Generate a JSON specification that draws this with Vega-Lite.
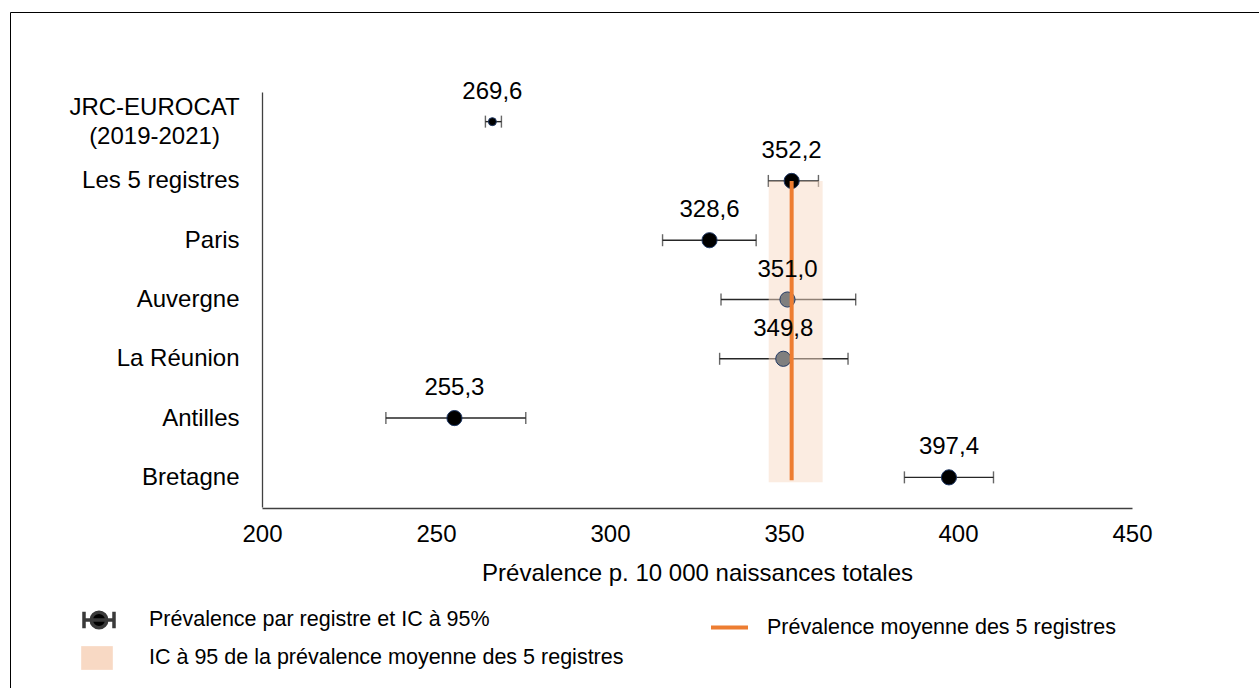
{
  "$schema": "https://vega.github.io/schema/vega-lite/v6.json",
  "autosize": {"type": "none"},
  "padding": {"left": 10, "top": 12, "right": 0, "bottom": 0},
  "width": 1252,
  "height": 680,
  "background": "white",
  "config": {
    "font": "Liberation Sans",
    "view": {"stroke": "#000000", "strokeWidth": 1},
    "legend": {"padding": 0, "labelFont": "Liberation Sans", "labelColor": "#000000", "labelFontSize": 21.5, "labelLimit": 0, "title": null}
  },
  "datasets": {
    "registres": [
      {"registre": "JRC-EUROCAT (2019-2021)", "prev": 266.2, "lo": 264.2, "hi": 268.8, "label": "269,6", "groupe": "référence", "statut": "a"},
      {"registre": "Les 5 registres", "prev": 352.2, "lo": 345.5, "hi": 359.9, "label": "352,2", "groupe": "registre", "statut": "a"},
      {"registre": "Paris", "prev": 328.6, "lo": 315.1, "hi": 342.0, "label": "328,6", "groupe": "registre", "statut": "a"},
      {"registre": "Auvergne", "prev": 351.0, "lo": 331.9, "hi": 370.6, "label": "351,0", "groupe": "registre", "statut": "b"},
      {"registre": "La Réunion", "prev": 349.8, "lo": 331.5, "hi": 368.4, "label": "349,8", "groupe": "registre", "statut": "b"},
      {"registre": "Antilles", "prev": 255.3, "lo": 235.6, "hi": 275.8, "label": "255,3", "groupe": "registre", "statut": "a"},
      {"registre": "Bretagne", "prev": 397.4, "lo": 384.6, "hi": 410.2, "label": "397,4", "groupe": "registre", "statut": "a"}
    ],
    "moyenne": [
      {"debut": "Les 5 registres", "fin": "Bretagne", "moy": 352.2, "ic_lo": 345.6, "ic_hi": 361.1}
    ]
  },
  "layer": [
    {
      "data": {"name": "registres"},
      "mark": {"type": "rule", "color": "#262626", "strokeWidth": 1.4},
      "encoding": {
        "x": {"field": "lo", "type": "quantitative", "title": "Prévalence p. 10 000 naissances totales",
          "scale": {"domain": [200, 450], "range": [252, 1122], "nice": false, "zero": false},
          "axis": {"values": [200, 250, 300, 350, 400, 450], "offset": -184, "ticks": false, "grid": false, "labelFlush": false, "labelOverlap": false,
            "labelFontSize": 24, "labelColor": "#000000", "labelPadding": 14, "domainColor": "#404040", "domainWidth": 1.3,
            "titleFontSize": 24, "titleFontWeight": "normal", "titleColor": "#000000", "titlePadding": 15}},
        "x2": {"field": "hi"},
        "y": {"field": "registre", "type": "nominal", "title": null,
          "scale": {"type": "point", "domain": ["JRC-EUROCAT (2019-2021)", "Les 5 registres", "Paris", "Auvergne", "La Réunion", "Antilles", "Bretagne"], "range": [80, 495], "padding": 0.5},
          "axis": {"offset": -252, "ticks": false, "grid": false, "labelFontSize": 24, "labelColor": "#000000", "labelLimit": 0,
            "labelLineHeight": 29, "domainColor": "#404040", "domainWidth": 1.3,
            "labelAlign": {"condition": {"test": "datum.value == 'JRC-EUROCAT (2019-2021)'", "value": "center"}, "value": "right"},
            "labelPadding": {"condition": {"test": "datum.value == 'JRC-EUROCAT (2019-2021)'", "value": 108}, "value": 23},
            "labelOffset": {"condition": {"test": "datum.value == 'JRC-EUROCAT (2019-2021)'", "value": -14}, "value": 0},
            "labelExpr": "datum.value == 'JRC-EUROCAT (2019-2021)' ? ['JRC-EUROCAT', '(2019-2021)'] : datum.value"}}
      }
    },
    {
      "data": {"name": "registres"},
      "mark": {"type": "tick", "orient": "vertical", "color": "#262626", "size": 12, "thickness": 1.4},
      "encoding": {
        "x": {"field": "lo", "type": "quantitative", "title": "Prévalence p. 10 000 naissances totales", "scale": {"domain": [200, 450], "range": [252, 1122], "nice": false, "zero": false}},
        "y": {"field": "registre", "type": "nominal", "title": null, "scale": {"type": "point", "domain": ["JRC-EUROCAT (2019-2021)", "Les 5 registres", "Paris", "Auvergne", "La Réunion", "Antilles", "Bretagne"], "range": [80, 495], "padding": 0.5}}
      }
    },
    {
      "data": {"name": "registres"},
      "mark": {"type": "tick", "orient": "vertical", "color": "#262626", "size": 12, "thickness": 1.4},
      "encoding": {
        "x": {"field": "hi", "type": "quantitative", "title": "Prévalence p. 10 000 naissances totales", "scale": {"domain": [200, 450], "range": [252, 1122], "nice": false, "zero": false}},
        "y": {"field": "registre", "type": "nominal", "title": null, "scale": {"type": "point", "domain": ["JRC-EUROCAT (2019-2021)", "Les 5 registres", "Paris", "Auvergne", "La Réunion", "Antilles", "Bretagne"], "range": [80, 495], "padding": 0.5}}
      }
    },
    {
      "data": {"name": "moyenne"},
      "mark": {"type": "rect", "opacity": 0.5, "y2Offset": 5},
      "encoding": {
        "x": {"field": "ic_lo", "type": "quantitative", "title": "Prévalence p. 10 000 naissances totales", "scale": {"domain": [200, 450], "range": [252, 1122], "nice": false, "zero": false}},
        "x2": {"field": "ic_hi"},
        "y": {"field": "debut", "type": "nominal", "title": null, "scale": {"type": "point", "domain": ["JRC-EUROCAT (2019-2021)", "Les 5 registres", "Paris", "Auvergne", "La Réunion", "Antilles", "Bretagne"], "range": [80, 495], "padding": 0.5}},
        "y2": {"field": "fin"},
        "fill": {"datum": "IC à 95 de la prévalence moyenne des 5 registres", "type": "nominal",
          "scale": {"range": ["#F8D9C4"]},
          "legend": {"orient": "none", "legendX": 71, "legendY": 630, "symbolType": "M-1,-0.75H1V0.75H-1Z", "symbolSize": 1000, "labelOffset": 36,
            "symbolFillColor": "#FBE5D6", "symbolOpacity": 1, "symbolStrokeWidth": 0,
            "encode": {"symbols": {"update": {"shape": {"value": "M-1,-0.75H1V0.75H-1Z"}, "fill": {"value": "#FBE5D6"}, "opacity": {"value": 1}, "stroke": {"value": "transparent"}}}}}}
      }
    },
    {
      "data": {"name": "registres"},
      "mark": {"type": "point", "filled": true, "shape": "circle", "stroke": "#1F3864", "strokeWidth": 1},
      "encoding": {
        "x": {"field": "prev", "type": "quantitative", "title": "Prévalence p. 10 000 naissances totales", "scale": {"domain": [200, 450], "range": [252, 1122], "nice": false, "zero": false}},
        "y": {"field": "registre", "type": "nominal", "title": null, "scale": {"type": "point", "domain": ["JRC-EUROCAT (2019-2021)", "Les 5 registres", "Paris", "Auvergne", "La Réunion", "Antilles", "Bretagne"], "range": [80, 495], "padding": 0.5}},
        "color": {"field": "statut", "type": "nominal", "scale": {"domain": ["a", "b"], "range": ["#000000", "#7F7F7F"]}, "legend": null},
        "size": {"field": "groupe", "type": "nominal", "scale": {"domain": ["référence", "registre"], "range": [64, 230]}, "legend": null},
        "opacity": {"datum": "Prévalence par registre et IC à 95%", "type": "ordinal",
          "scale": {"range": [1, 1]},
          "legend": {"orient": "none", "legendX": 72, "legendY": 591, "symbolType": "M-1,-0.55L-1,0.55M1,-0.55L1,0.55M-1,0L1,0M-0.52,0A0.52,0.52 0 1,0 0.52,0A0.52,0.52 0 1,0 -0.52,0Z", "symbolSize": 900, "labelOffset": 33,
            "symbolFillColor": "#000000", "symbolStrokeColor": "#3A3A3A", "symbolStrokeWidth": 3.5, "symbolOpacity": 1,
            "encode": {"symbols": {"update": {"fill": {"value": "#000000"}, "stroke": {"value": "#3A3A3A"}, "strokeWidth": {"value": 3.5}, "opacity": {"value": 1}}}}}}
      }
    },
    {
      "data": {"name": "moyenne"},
      "mark": {"type": "rule", "strokeWidth": 4, "y2Offset": 3},
      "encoding": {
        "x": {"field": "moy", "type": "quantitative", "title": "Prévalence p. 10 000 naissances totales", "scale": {"domain": [200, 450], "range": [252, 1122], "nice": false, "zero": false}},
        "y": {"field": "debut", "type": "nominal", "title": null, "scale": {"type": "point", "domain": ["JRC-EUROCAT (2019-2021)", "Les 5 registres", "Paris", "Auvergne", "La Réunion", "Antilles", "Bretagne"], "range": [80, 495], "padding": 0.5}},
        "y2": {"field": "fin"},
        "stroke": {"datum": "Prévalence moyenne des 5 registres", "type": "nominal",
          "scale": {"range": ["#ED7D31"]},
          "legend": {"orient": "none", "legendX": 699, "legendY": 595, "symbolType": "stroke", "symbolSize": 1369, "labelOffset": 17,
            "symbolStrokeColor": "#ED7D31", "symbolStrokeWidth": 4, "symbolOpacity": 1,
            "encode": {"symbols": {"update": {"stroke": {"value": "#ED7D31"}, "strokeWidth": {"value": 4}, "opacity": {"value": 1}}}}}}
      }
    },
    {
      "data": {"name": "registres"},
      "mark": {"type": "text", "fontSize": 24, "color": "#000000", "dy": -30, "baseline": "middle", "align": "center"},
      "encoding": {
        "x": {"field": "prev", "type": "quantitative", "title": "Prévalence p. 10 000 naissances totales", "scale": {"domain": [200, 450], "range": [252, 1122], "nice": false, "zero": false}},
        "y": {"field": "registre", "type": "nominal", "title": null, "scale": {"type": "point", "domain": ["JRC-EUROCAT (2019-2021)", "Les 5 registres", "Paris", "Auvergne", "La Réunion", "Antilles", "Bretagne"], "range": [80, 495], "padding": 0.5}},
        "text": {"field": "label"}
      }
    }
  ]
}
